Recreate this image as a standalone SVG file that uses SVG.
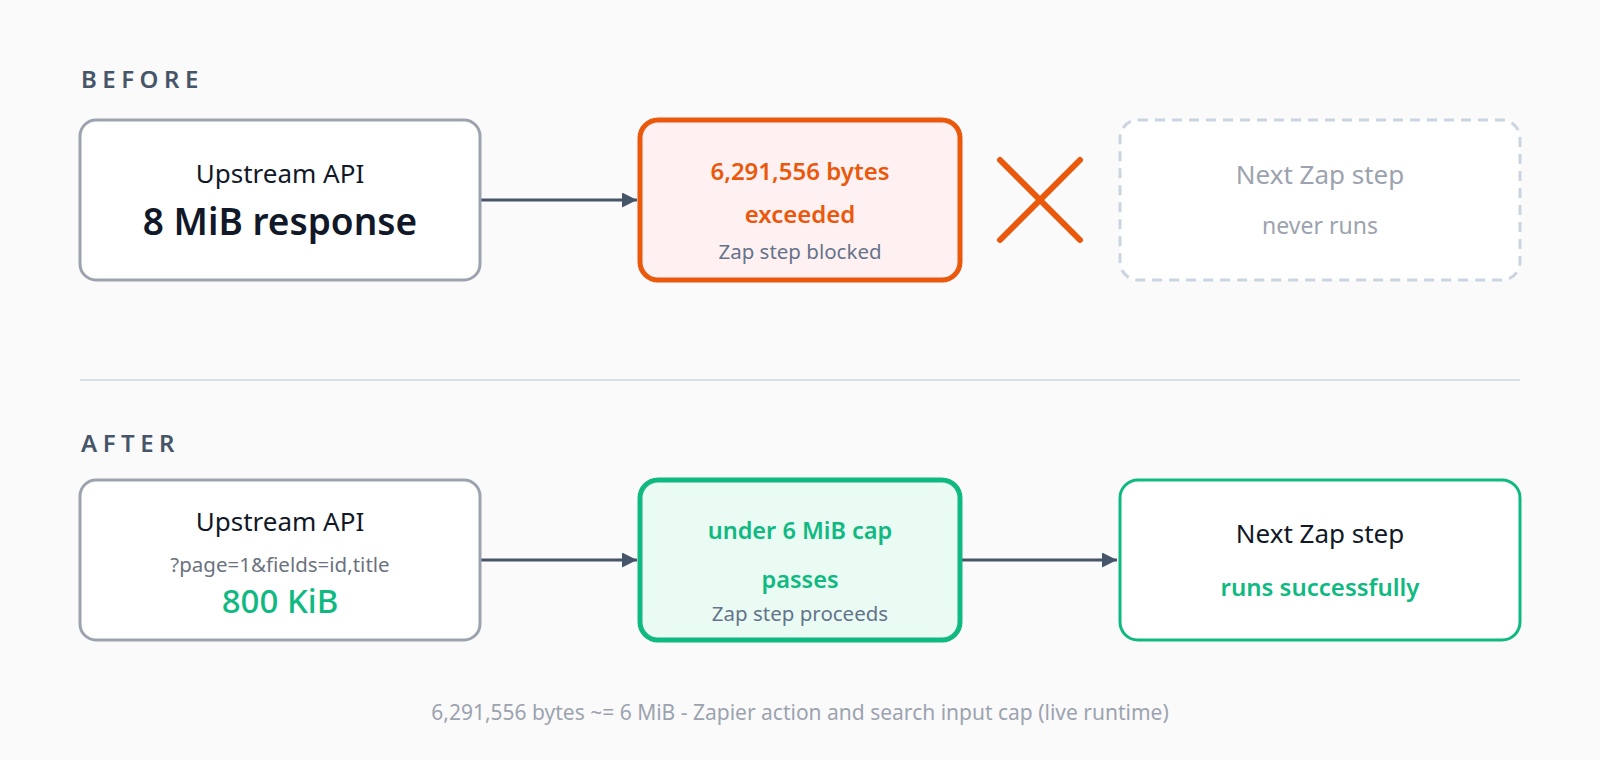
<svg xmlns="http://www.w3.org/2000/svg" width="1600" height="760" viewBox="0 0 1600 760">
<defs>
<style>
text{font-family:"Noto Sans","Open Sans","DejaVu Sans",sans-serif;text-anchor:middle}
.sec{font-size:24px;font-weight:600;fill:#475569;letter-spacing:5.5px;text-anchor:start}
.lbl{font-size:26px;fill:#111827}
.big{font-size:37px;font-weight:600;fill:#111827}
.red{font-size:24px;font-weight:600;fill:#EA580C}
.grn{font-size:23.5px;font-weight:600;fill:#10B981}
.sub{font-size:20.5px;fill:#64748B}
.mute{fill:#9CA3AF}
.conn{stroke:#475569;stroke-width:3;fill:none}
</style>
<marker id="arr" viewBox="0 0 10 10" refX="10" refY="5" markerWidth="5" markerHeight="5" markerUnits="strokeWidth" orient="auto">
<path d="M0,0 L10,5 L0,10 z" fill="#475569"/>
</marker>
</defs>
<rect width="1600" height="760" fill="#FAFAFA"/>
<text class="sec" x="81" y="88">BEFORE</text>
<text class="sec" x="81" y="452">AFTER</text>
<line x1="80" y1="380" x2="1520" y2="380" stroke="#CBD5E1" stroke-width="1.5"/>
<g id="connectors">
<line class="conn" x1="481" y1="200" x2="637" y2="200" marker-end="url(#arr)"/>
<line class="conn" x1="481" y1="560" x2="637" y2="560" marker-end="url(#arr)"/>
<line class="conn" x1="961" y1="560" x2="1117" y2="560" marker-end="url(#arr)"/>
</g>
<g id="before-api">
<rect x="80" y="120" width="400" height="160" rx="16" fill="#FFFFFF" stroke="#9CA3AF" stroke-width="3"/>
<text class="lbl" x="280" y="183">Upstream API</text>
<text class="big" x="280" y="235">8 MiB response</text>
</g>
<g id="before-cap">
<rect x="640" y="120" width="320" height="160" rx="18" fill="#FFF1F2" stroke="#EA580C" stroke-width="5"/>
<text class="red" x="800" y="180">6,291,556 bytes</text>
<text class="red" x="800" y="223">exceeded</text>
<text class="sub" x="800" y="259">Zap step blocked</text>
</g>
<g id="blocked-x">
<path d="M1000,160 L1080,240 M1080,160 L1000,240" stroke="#EA580C" stroke-width="6" stroke-linecap="round"/>
</g>
<g id="before-next">
<rect x="1120" y="120" width="400" height="160" rx="18" fill="#FFFFFF" stroke="#CBD5E1" stroke-width="3" stroke-dasharray="10 7"/>
<text class="lbl mute" x="1320" y="184">Next Zap step</text>
<text class="mute" x="1320" y="234" style="font-size:23px">never runs</text>
</g>
<g id="after-api">
<rect x="80" y="480" width="400" height="160" rx="16" fill="#FFFFFF" stroke="#9CA3AF" stroke-width="3"/>
<text class="lbl" x="280" y="531">Upstream API</text>
<text x="280" y="572" style="font-size:20.5px;fill:#6B7280">?page=1&amp;fields=id,title</text>
<text x="280" y="613" style="font-size:33px;font-weight:500;fill:#10B981">800 KiB</text>
</g>
<g id="after-cap">
<rect x="640" y="480" width="320" height="160" rx="18" fill="#EAFBF3" stroke="#10B981" stroke-width="5"/>
<text class="grn" x="800" y="539">under 6 MiB cap</text>
<text class="grn" x="800" y="588">passes</text>
<text class="sub" x="800" y="621">Zap step proceeds</text>
</g>
<g id="after-next">
<rect x="1120" y="480" width="400" height="160" rx="18" fill="#FFFFFF" stroke="#10B981" stroke-width="3"/>
<text class="lbl" x="1320" y="543">Next Zap step</text>
<text class="grn" x="1320" y="596" style="font-size:24px">runs successfully</text>
</g>
<text x="800" y="720" style="font-size:21px;fill:#9CA3AF">6,291,556 bytes ~= 6 MiB - Zapier action and search input cap (live runtime)</text>
</svg>
